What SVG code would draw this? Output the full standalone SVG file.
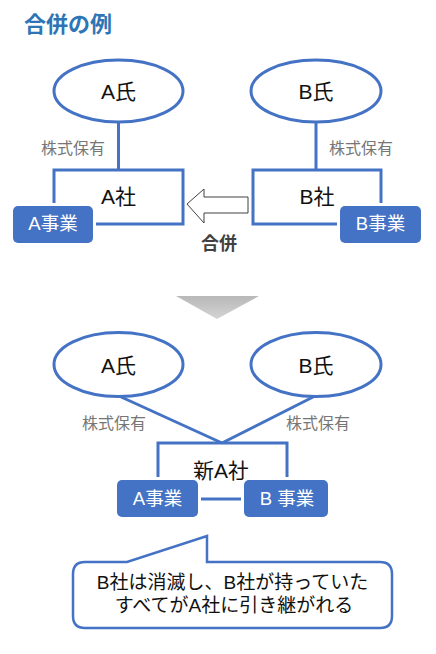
<svg xmlns="http://www.w3.org/2000/svg" width="436" height="654" viewBox="0 0 436 654">
<defs>
<linearGradient id="tri" x1="0" y1="0" x2="0" y2="1">
<stop offset="0" stop-color="#b8b8b8"/>
<stop offset="1" stop-color="#d4d4d4"/>
</linearGradient>
</defs>
<style>
text{font-family:"Liberation Sans","Noto Sans CJK JP",sans-serif;text-anchor:middle}
.ell{fill:#fff;stroke:#4472C4;stroke-width:3}
.co{fill:none;stroke:#4472C4;stroke-width:3}
.halo{fill:#fff}
.biz{fill:#4472C4}
.lbl{font-size:21px;fill:#111}
.own{font-size:16px;fill:#767676}
.bizt{font-size:18.5px;fill:#fff}
.line{stroke:#4472C4;stroke-width:3;fill:none}
</style>
<rect width="436" height="654" fill="#fff"/>
<text id="title" x="24" y="32" style="text-anchor:start;font-size:22px;font-weight:bold;fill:#2E75B6">合併の例</text>

<g id="connectors">
<line class="line" x1="118.5" y1="122" x2="118.5" y2="170"/>
<line class="line" x1="316" y1="122" x2="316" y2="170"/>
<line class="line" x1="119" y1="396" x2="222" y2="443"/>
<line class="line" x1="315" y1="396" x2="222" y2="443"/>
</g>

<g id="top-a-shi"><ellipse class="ell" cx="118.5" cy="91" rx="64.5" ry="31"/><text class="lbl" x="118.5" y="99">A氏</text></g>
<g id="top-b-shi"><ellipse class="ell" cx="316" cy="91" rx="65" ry="31"/><text class="lbl" x="316" y="99">B氏</text></g>
<text class="own" x="73" y="154">株式保有</text>
<text class="own" x="361" y="154">株式保有</text>

<g id="top-a-sha"><rect class="co" x="54" y="170" width="129" height="54"/><text class="lbl" x="118.5" y="204">A社</text></g>
<g id="top-a-biz"><rect class="halo" x="10" y="203" width="86" height="43" rx="7"/><rect class="biz" x="13" y="206" width="80" height="37" rx="5"/><text class="bizt" x="53" y="230">A事業</text></g>
<g id="top-b-sha"><rect class="co" x="253" y="170" width="128" height="54"/><text class="lbl" x="317" y="204">B社</text></g>
<g id="top-b-biz"><rect class="halo" x="337" y="203" width="87" height="43" rx="7"/><rect class="biz" x="340" y="206" width="81" height="37" rx="5"/><text class="bizt" x="380.5" y="230">B事業</text></g>

<g id="merge-arrow">
<path d="M187 204 L204 189 L204 197 L248 197 L248 213 L204 213 L204 223 Z" fill="#fff" stroke="#404040" stroke-width="1"/>
<text x="219" y="250" style="font-size:18px;font-weight:bold;fill:#404040">合併</text>
</g>

<path id="down-triangle" d="M176 296 L259 296 L217 319 Z" fill="url(#tri)"/>

<g id="bot-a-shi"><ellipse class="ell" cx="118.5" cy="364.5" rx="64.5" ry="32"/><text class="lbl" x="118.5" y="373">A氏</text></g>
<g id="bot-b-shi"><ellipse class="ell" cx="316" cy="364.5" rx="65" ry="32"/><text class="lbl" x="316" y="373">B氏</text></g>
<text class="own" x="114" y="429">株式保有</text>
<text class="own" x="318" y="429">株式保有</text>

<g id="new-a-sha"><rect class="co" x="158" y="443" width="129" height="56"/><text class="lbl" x="221" y="478">新A社</text></g>
<g id="bot-a-biz"><rect class="halo" x="114" y="477" width="87" height="43" rx="7"/><rect class="biz" x="117" y="480" width="81" height="37" rx="5"/><text class="bizt" x="157.5" y="505">A事業</text></g>
<g id="bot-b-biz"><rect class="halo" x="241" y="477" width="90" height="43" rx="7"/><rect class="biz" x="244" y="480" width="84" height="37" rx="5"/><text class="bizt" x="287" y="505">B 事業</text></g>

<g id="callout">
<path d="M85 562 L127 562 L207 536 L207 562 L380 562 Q392 562 392 574 L392 616 Q392 628 380 628 L85 628 Q73 628 73 616 L73 574 Q73 562 85 562 Z" fill="#fff" stroke="#4472C4" stroke-width="2.5"/>
<text x="232.5" y="589" style="font-size:19px;fill:#111">B社は消滅し、B社が持っていた</text>
<text x="234" y="612" style="font-size:19px;fill:#111">すべてがA社に引き継がれる</text>
</g>
</svg>
